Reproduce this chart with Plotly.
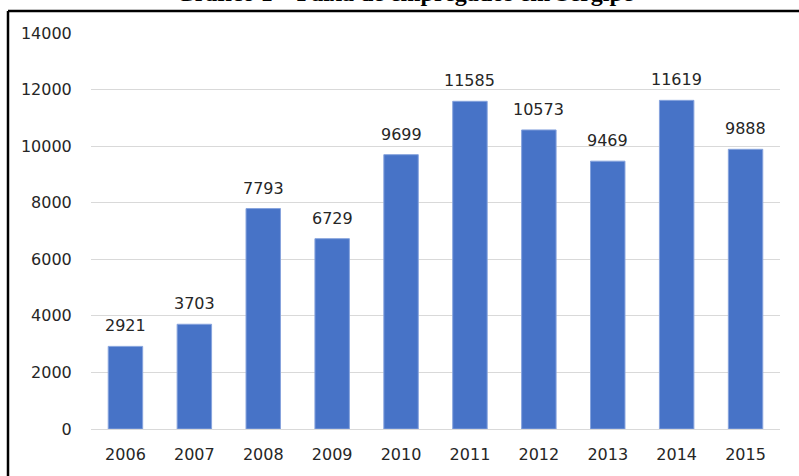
import plotly.graph_objects as go

years = ["2006", "2007", "2008", "2009", "2010", "2011", "2012", "2013", "2014", "2015"]
values = [2921, 3703, 7793, 6729, 9699, 11585, 10573, 9469, 11619, 9888]
y_ticks = [0, 2000, 4000, 6000, 8000, 10000, 12000, 14000]
title_text = "Gráfico 1 – Faixa de empregados em Sergipe"

W, H = 799, 476
L, R, T, B = 91, 19, 33, 47
pw, ph = W - L - R, H - T - B

def px_x(p):
    return (p - L) / pw

def px_y(p):
    return (H - B - p) / ph

fig = go.Figure()
fig.add_trace(go.Bar(
    x=years, y=values,
    marker=dict(color="#4773c7", line=dict(color="#86a3dd", width=1)),
    width=0.5,
    hoverinfo="skip",
))

for i, v in enumerate(values):
    fig.add_annotation(x=i, y=v, text=str(v), showarrow=False,
                       yanchor="bottom", yshift=9,
                       font=dict(family="DejaVu Sans", size=16, color="#262626"))

fig.add_annotation(xref="paper", yref="paper", x=px_x(405), y=px_y(-7),
                   text="<b>" + title_text + "</b>", showarrow=False,
                   xanchor="center", yanchor="middle",
                   font=dict(family="Liberation Serif", size=24, color="#000000"))

# frame lines
fig.add_shape(type="line", xref="paper", yref="paper",
              x0=px_x(8), x1=px_x(805), y0=px_y(11), y1=px_y(11),
              line=dict(color="#000000", width=2.5))
fig.add_shape(type="line", xref="paper", yref="paper",
              x0=px_x(8), x1=px_x(8), y0=px_y(11), y1=px_y(490),
              line=dict(color="#000000", width=2.5))

fig.update_layout(
    width=W, height=H,
    margin=dict(l=L, r=R, t=T, b=B),
    paper_bgcolor="white", plot_bgcolor="white",
    showlegend=False,
    font=dict(family="DejaVu Sans", size=16, color="#262626"),
    xaxis=dict(type="category", range=[-0.5, len(years) - 0.5],
               showgrid=False, showline=False,
               ticks="outside", ticklen=11, tickcolor="rgba(0,0,0,0)",
               tickfont=dict(size=16, color="#262626")),
    yaxis=dict(range=[0, 14000], tickvals=y_ticks, tickformat="d",
               showgrid=True,
               gridcolor="#d9d9d9", gridwidth=1, zeroline=True,
               zerolinecolor="#d9d9d9", zerolinewidth=1,
               ticks="outside", ticklen=15, tickcolor="rgba(0,0,0,0)",
               tickfont=dict(size=16, color="#262626")),
)

fig.write_html("out.html")
